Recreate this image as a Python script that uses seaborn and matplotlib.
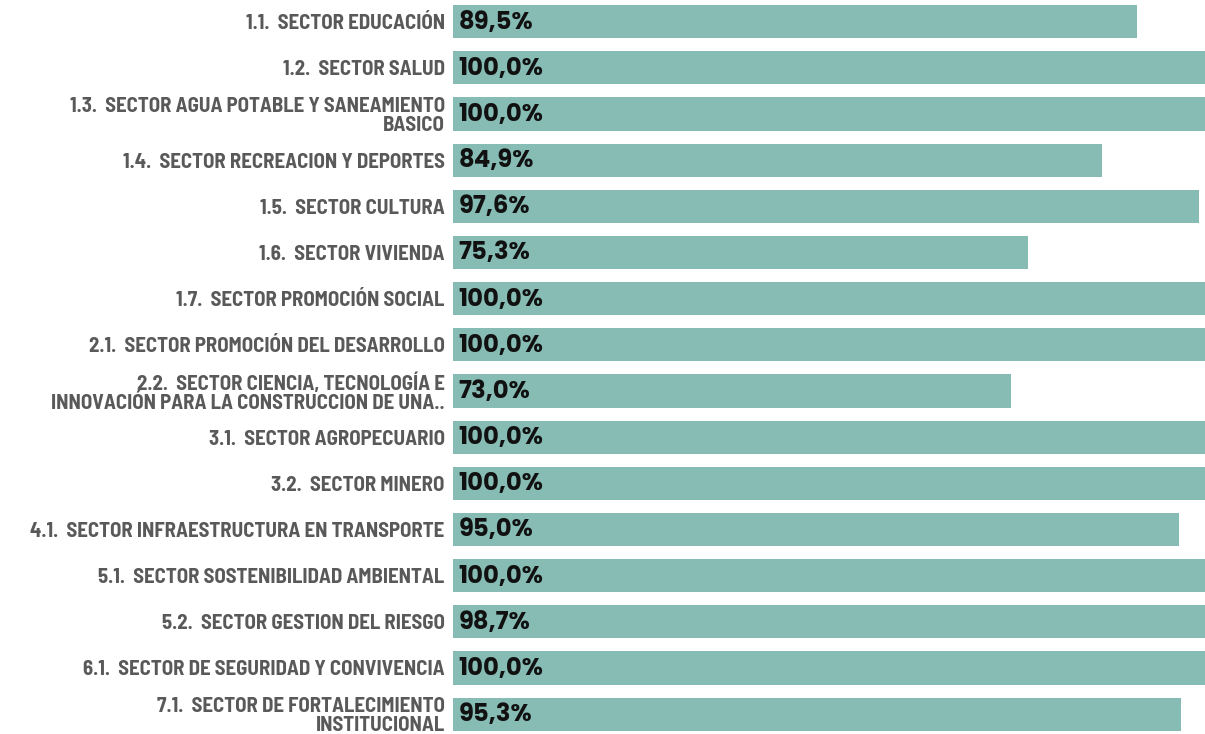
import matplotlib
matplotlib.use("Agg")
import matplotlib.pyplot as plt
import seaborn as sns
import pandas as pd
from matplotlib import font_manager

categories = [
    "1.1.  SECTOR EDUCACIÓN",
    "1.2.  SECTOR SALUD",
    "1.3.  SECTOR AGUA POTABLE Y SANEAMIENTO\nBASICO",
    "1.4.  SECTOR RECREACION Y DEPORTES",
    "1.5.  SECTOR CULTURA",
    "1.6.  SECTOR VIVIENDA",
    "1.7.  SECTOR PROMOCIÓN SOCIAL",
    "2.1.  SECTOR PROMOCIÓN DEL DESARROLLO",
    "2.2.  SECTOR CIENCIA, TECNOLOGÍA E\nINNOVACIÓN PARA LA CONSTRUCCION DE UNA..",
    "3.1.  SECTOR AGROPECUARIO",
    "3.2.  SECTOR MINERO",
    "4.1.  SECTOR INFRAESTRUCTURA EN TRANSPORTE",
    "5.1.  SECTOR SOSTENIBILIDAD AMBIENTAL",
    "5.2.  SECTOR GESTION DEL RIESGO",
    "6.1.  SECTOR DE SEGURIDAD Y CONVIVENCIA",
    "7.1.  SECTOR DE FORTALECIMIENTO\nINSTITUCIONAL",
]
values = [89.5, 100.0, 100.0, 84.9, 97.6, 75.3, 100.0, 100.0, 73.0,
          100.0, 100.0, 95.0, 100.0, 98.7, 100.0, 95.3]

sns.set_style("white")
names = {f.name for f in font_manager.fontManager.ttflist}


def pick(cands, default="DejaVu Sans"):
    for c in cands:
        if c in names:
            return c
    return default


label_font = pick(["Barlow Semi Condensed", "Encode Sans Condensed", "Archivo Narrow"])
value_font = pick(["Poppins", "Jost", "Lato"])

df = pd.DataFrame({"cat": categories, "val": values})

fig = plt.figure(figsize=(12.05, 7.34), dpi=100)
ax = fig.add_axes([0.376, 0.0, 0.624, 1.0])
sns.barplot(data=df, y="cat", x="val", orient="h", color="#86BCB4",
            saturation=1, width=0.72, ax=ax, edgecolor="none")
ax.set_xlim(0, 98.4)
ax.set_ylim(15.43, -0.47)
ax.set_xlabel("")
ax.set_ylabel("")
ax.set_xticks([])
for s in ax.spines.values():
    s.set_visible(False)
ax.tick_params(axis="y", length=0, pad=6)
for t in ax.get_yticklabels():
    t.set_fontfamily(label_font)
    t.set_fontweight("bold")
    t.set_fontsize(15)
    t.set_color("#595959")
    t.set_horizontalalignment("right")
    t.set_multialignment("right")
    t.set_linespacing(1.0)

for i, v in enumerate(values):
    ax.text(0.7, i + 0.03, f"{v:.1f}%".replace(".", ","), va="center", ha="left",
            fontsize=17.5, fontweight="bold", color="#111111",
            family=[value_font, "DejaVu Sans"])

fig.savefig("out.png", dpi=100)
